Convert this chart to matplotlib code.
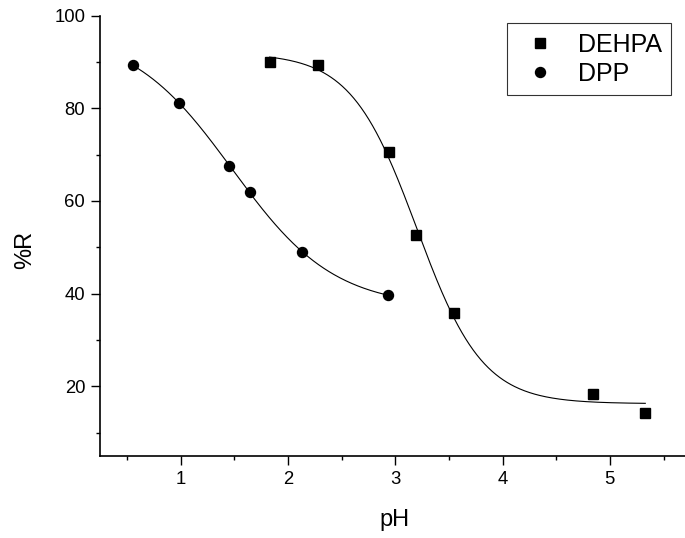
import numpy as np
import matplotlib
matplotlib.use("Agg")
import matplotlib.pyplot as plt
from matplotlib.ticker import MultipleLocator

# ---- data ----
dehpa_ph = [1.83, 2.28, 2.94, 3.19, 3.55, 4.84, 5.33]
dehpa_r = [90.0, 89.3, 70.6, 52.6, 35.9, 18.3, 14.3]
dpp_ph = [0.555, 0.99, 1.45, 1.65, 2.13, 2.93]
dpp_r = [89.3, 81.1, 67.6, 61.9, 49.0, 39.7]
series_names = ["DEHPA", "DPP"]
x_label = "pH"
y_label = "%R"


def boltzmann(p, x):
    a1, a2, x0, dx = p
    return a2 + (a1 - a2) / (1.0 + np.exp((x - x0) / dx))


def fit_boltzmann(x, y, p0):
    """Small Levenberg-Marquardt fit (as the original Boltzmann fit)."""
    x = np.asarray(x, float)
    y = np.asarray(y, float)
    p = np.asarray(p0, float)
    lam = 1e-2
    def cost(pp):
        return np.sum((boltzmann(pp, x) - y) ** 2)
    c = cost(p)
    for _ in range(500):
        J = np.zeros((len(x), 4))
        for k in range(4):
            h = 1e-6 * max(1.0, abs(p[k]))
            dp = np.zeros(4); dp[k] = h
            J[:, k] = (boltzmann(p + dp, x) - boltzmann(p - dp, x)) / (2 * h)
        r = y - boltzmann(p, x)
        A = J.T @ J
        g = J.T @ r
        step = np.linalg.solve(A + lam * np.diag(np.diag(A) + 1e-12), g)
        pn = p + step
        if pn[3] <= 0:
            lam *= 10
            continue
        cn = cost(pn)
        if cn < c:
            p, c = pn, cn
            lam = max(lam / 3, 1e-9)
        else:
            lam *= 5
    return p


p_dehpa = fit_boltzmann(dehpa_ph, dehpa_r, [91.5, 16.0, 3.2, 0.3])
p_dpp = fit_boltzmann(dpp_ph, dpp_r, [96.0, 37.0, 1.45, 0.45])

plt.rcParams['font.family'] = ['Liberation Sans', 'DejaVu Sans']

fig = plt.figure(figsize=(6.85, 5.38), dpi=100)
ax = fig.add_axes([100 / 685, 82.3 / 538, 585 / 685, 440 / 538])

xs1 = np.linspace(min(dehpa_ph), max(dehpa_ph), 300)
xs2 = np.linspace(min(dpp_ph), max(dpp_ph), 300)
ax.plot(xs1, boltzmann(p_dehpa, xs1), color='black', lw=0.8, zorder=2)
ax.plot(xs2, boltzmann(p_dpp, xs2), color='black', lw=0.8, zorder=2)

ax.plot(dehpa_ph, dehpa_r, linestyle='none', marker='s', markersize=6.5,
        color='black', label=series_names[0], zorder=3)
ax.plot(dpp_ph, dpp_r, linestyle='none', marker='o', markersize=7.2,
        color='black', label=series_names[1], zorder=3)

ax.set_xlim(0.25, 5.70)
ax.set_ylim(5, 100)
ax.xaxis.set_major_locator(MultipleLocator(1))
ax.xaxis.set_minor_locator(MultipleLocator(0.5))
ax.yaxis.set_major_locator(MultipleLocator(20))
ax.yaxis.set_minor_locator(MultipleLocator(10))

for s in ['top', 'right']:
    ax.spines[s].set_visible(False)
for s in ['left', 'bottom']:
    ax.spines[s].set_linewidth(1.2)

ax.tick_params(axis='both', which='major', direction='out', length=6.2,
               width=1.0, labelsize=13.3, pad=4.5)
ax.tick_params(axis='both', which='minor', direction='out', length=3.2,
               width=1.0)

ax.set_xlabel(x_label, fontsize=17, va='baseline')
ax.set_ylabel(y_label, fontsize=17, va='center')
ax.xaxis.set_label_coords(0.504, -0.159)
ax.yaxis.set_label_coords(-0.128, 0.467)

leg = ax.legend(loc='upper left', bbox_to_anchor=((507 - 100) / 585, (455.7 - 23) / 440),
                frameon=True, fancybox=False, edgecolor='black', fontsize=18,
                handletextpad=0.55, borderpad=0.38, labelspacing=0.2,
                handlelength=1.9, markerscale=1.0, borderaxespad=0)
leg.get_frame().set_linewidth(0.8)

fig.savefig("out.png", dpi=100)
